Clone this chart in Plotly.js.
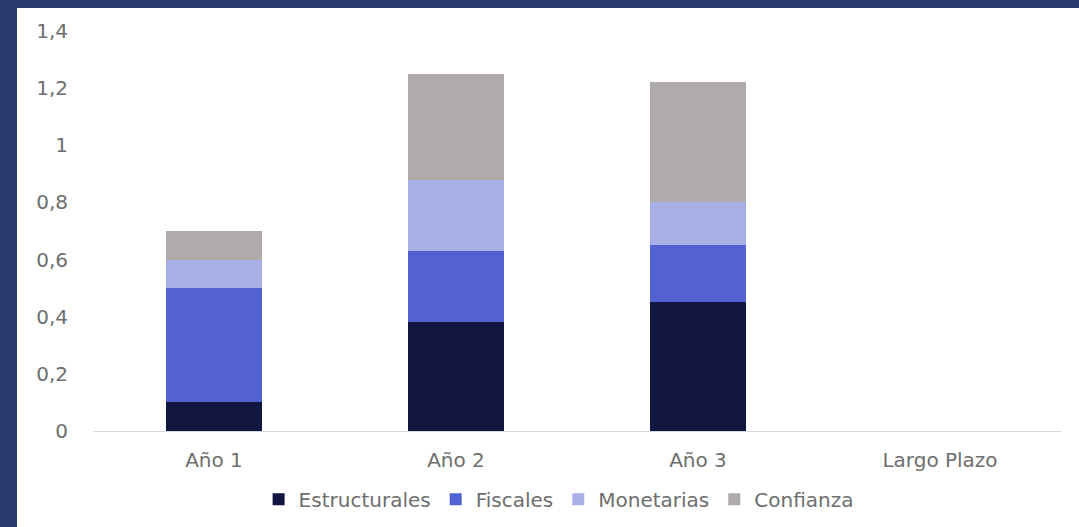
<!DOCTYPE html>
<html><head><meta charset="utf-8">
<script src="https://cdn.plot.ly/plotly-3.0.1.min.js"></script>
<style>
html,body{margin:0;padding:0;background:#fff;}
#wrap{width:1062px;height:519px;border-left:17px solid #2B3A6E;border-top:8px solid #2B3A6E;background:#fff;}
#chart{width:1062px;height:519px;}
</style></head>
<body><div id="wrap"><div id="chart"></div></div>
<script>
const categories = ["Año 1", "Año 2", "Año 3", "Largo Plazo"];
const estructurales = [0.10, 0.38, 0.45, null];
const fiscales = [0.40, 0.25, 0.20, null];
const monetarias = [0.10, 0.25, 0.15, null];
const confianza = [0.10, 0.37, 0.42, null];
const seriesNames = ["Estructurales", "Fiscales", "Monetarias", "Confianza"];
const seriesColors = ["#111640", "#5262D3", "#A9B0E8", "#AEABAA"];
const seriesValues = [estructurales, fiscales, monetarias, confianza];
const yTicks = [0, 0.2, 0.4, 0.6, 0.8, 1, 1.2, 1.4];

const traces = seriesValues.map((v, i) => ({
  type: "bar", x: categories, y: v, name: seriesNames[i],
  marker: {color: seriesColors[i], line: {width: 0}},
  hoverinfo: "none"
}));

const font = {family: "DejaVu Sans, sans-serif", size: 20, color: "#6E6E6E"};
Plotly.newPlot("chart", traces, {
  barmode: "stack", bargap: 0.6,
  width: 1062, height: 519,
  margin: {l: 76, r: 18, t: 23, b: 96},
  paper_bgcolor: "#fff", plot_bgcolor: "#fff",
  font: font,
  separators: ",.",
  xaxis: {showgrid: false, showline: true, linecolor: "#D9D9D9", linewidth: 1, ticks: "", tickfont: font, zeroline: false, ticklabelstandoff: 11, automargin: false},
  yaxis: {range: [0, 1.4], tickvals: yTicks, showgrid: false, zeroline: false, showline: false, ticks: "", tickfont: font, ticklabelstandoff: 24, automargin: false},
  showlegend: true,
  legend: {orientation: "h", x: 0.481, xanchor: "center", y: 0.016, yref: "container", yanchor: "bottom", font: font, traceorder: "normal", itemwidth: 30},
}, {staticPlot: true});
</script></body></html>
